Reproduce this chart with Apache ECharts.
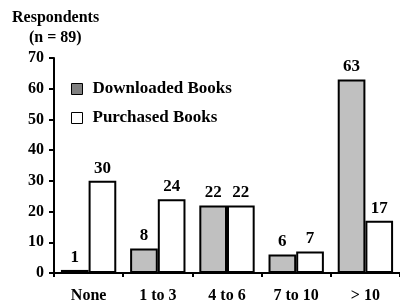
<!DOCTYPE html>
<html>
<head>
<meta charset="utf-8">
<script src="https://cdn.jsdelivr.net/npm/echarts@6/dist/echarts.min.js"></script>
<style>
  html, body { margin: 0; padding: 0; background: #fff; }
  #main { width: 400px; height: 304px; }
</style>
</head>
<body>
<div id="main"></div>
<script>
// data
var categories = ['None', '1 to 3', '4 to 6', '7 to 10', '> 10'];
var downloaded = [1, 8, 22, 6, 63];
var purchased = [30, 24, 22, 7, 17];
var yTicks = [0, 10, 20, 30, 40, 50, 60, 70];

var font = 'Liberation Serif, Times New Roman, serif';
var chart = echarts.init(document.getElementById('main'));

var labelStyle = {
  show: true,
  position: 'top',
  distance: 4,
  color: '#000',
  fontFamily: font,
  fontWeight: 'bold',
  fontSize: 17
};

var option = {
  animation: false,
  title: [
    { text: 'Respondents', left: 7, top: 5,
      textStyle: { fontFamily: font, fontWeight: 'bold', fontSize: 16, color: '#000' } },
    { text: '(n = 89)', left: 24, top: 25,
      textStyle: { fontFamily: font, fontWeight: 'bold', fontSize: 16, color: '#000' } }
  ],
  legend: {
    orient: 'vertical',
    left: 66,
    top: 75,
    itemWidth: 11,
    itemHeight: 11,
    itemGap: 11,
    icon: 'rect',
    textStyle: { fontFamily: font, fontWeight: 'bold', fontSize: 17, lineHeight: 18, color: '#000', padding: [0, 0, 0, 5] },
    data: [
      { name: 'Downloaded Books', itemStyle: { color: '#808080', borderColor: '#000', borderWidth: 1 } },
      { name: 'Purchased Books', itemStyle: { color: '#fff', borderColor: '#000', borderWidth: 1 } }
    ]
  },
  grid: { left: 54, top: 58, bottom: 31, width: 348 },
  xAxis: {
    type: 'category',
    data: categories,
    axisLine: { lineStyle: { color: '#000', width: 2 } },
    axisTick: { show: true, length: 4, lineStyle: { color: '#000', width: 2 } },
    axisLabel: { margin: 15, color: '#000', fontFamily: font, fontWeight: 'bold', fontSize: 16 }
  },
  yAxis: {
    type: 'value',
    min: yTicks[0],
    max: yTicks[yTicks.length - 1],
    interval: 10,
    splitLine: { show: false },
    axisLine: { show: true, lineStyle: { color: '#000', width: 2 } },
    axisTick: { show: true, length: 5, lineStyle: { color: '#000', width: 2 } },
    axisLabel: { margin: 10, color: '#000', fontFamily: font, fontWeight: 'bold', fontSize: 16 }
  },
  series: [
    {
      name: 'Downloaded Books',
      type: 'bar',
      data: downloaded,
      barGap: '0%',
      barCategoryGap: '20%',
      itemStyle: { color: '#c0c0c0', borderColor: '#000', borderWidth: 2 },
      label: labelStyle
    },
    {
      name: 'Purchased Books',
      type: 'bar',
      data: purchased,
      itemStyle: { color: '#fff', borderColor: '#000', borderWidth: 2 },
      label: labelStyle
    }
  ]
};

chart.setOption(option);
</script>
</body>
</html>
